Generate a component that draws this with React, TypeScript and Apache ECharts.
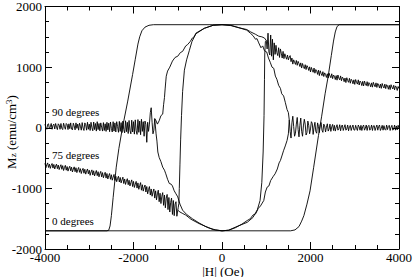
import React, { useEffect, useRef } from "react";
import * as echarts from "echarts";

// Axis ranges / ticks
const xRange = [-4000, 4000];
const yRange = [-2000, 2000];
const xStep = 2000;
const yStep = 1000;

// 0 degrees: square loop
const zeroDegDown = [
  [4000, 1700], [-1550, 1700], [-1650, 1690], [-1740, 1660], [-1810, 1600], [-1860, 1500],
  [-1900, 1380], [-1960, 1130], [-2020, 880], [-2130, 440], [-2250, 0], [-2330, -340],
  [-2390, -650], [-2460, -1150], [-2500, -1450], [-2530, -1620], [-2560, -1690], [-2600, -1700],
  [-4000, -1700],
];
const zeroDegUp = [
  [-4000, -1700], [1550, -1700], [1650, -1685], [1740, -1630], [1800, -1540], [1850, -1450],
  [1920, -1260], [1990, -1040], [2070, -660], [2180, -130], [2250, 180], [2330, 560],
  [2400, 850], [2470, 1190], [2520, 1430], [2560, 1580], [2600, 1670], [2650, 1700], [4000, 1700],
];

// Noisy tails sampled every 20 Oe
const tailStep = 20;
const deg75RightStart = 1000;
const deg75Right = [
  1440, 1300, 1560, 1250, 1200, 1530, 1180, 1460, 1120, 1400,
  1210, 1360, 1240, 1190, 1320, 1160, 1300, 1230, 1150, 1260,
  1140, 1220, 1170, 1130, 1200, 1120, 1165, 1190, 1090, 1150,
  1050, 1120, 1080, 1045, 1110, 1030, 1095, 1060, 1010, 1070,
  985, 1060, 1010, 975, 1040, 960, 1025, 1000, 945, 1005,
  920, 995, 950, 915, 985, 900, 960, 940, 880, 950,
  860, 940, 895, 860, 925, 845, 905, 880, 830, 890,
  820, 900, 855, 825, 890, 810, 870, 850, 795, 860,
  785, 870, 820, 790, 855, 775, 835, 815, 760, 820,
  745, 825, 780, 750, 815, 735, 800, 775, 725, 790,
  715, 795, 750, 720, 790, 705, 770, 750, 695, 765,
  690, 770, 725, 695, 760, 685, 745, 725, 675, 740,
  670, 750, 705, 675, 740, 665, 730, 705, 655, 720,
  650, 730, 685, 655, 720, 645, 710, 690, 635, 700,
  630, 710, 670, 640, 700, 625, 690, 670, 615, 680,
  645,
];
const deg75LeftStart = -4000;
const deg75Left = [
  -585, -660, -610, -580, -655, -600, -670, -620, -590, -665,
  -605, -680, -630, -600, -675, -615, -690, -645, -610, -685,
  -625, -705, -655, -620, -700, -640, -715, -665, -635, -710,
  -650, -730, -680, -645, -725, -660, -740, -690, -655, -735,
  -675, -755, -700, -670, -750, -685, -765, -715, -680, -760,
  -700, -785, -730, -695, -780, -710, -795, -745, -705, -790,
  -725, -810, -755, -720, -810, -740, -825, -775, -735, -830,
  -755, -845, -790, -755, -850, -775, -865, -815, -770, -870,
  -800, -890, -835, -800, -895, -820, -910, -860, -815, -920,
  -845, -935, -880, -840, -940, -865, -960, -905, -860, -970,
  -885, -985, -930, -885, -995, -910, -1015, -955, -905, -1030,
  -940, -1045, -985, -945, -1060, -970, -1090, -1020, -970, -1110,
  -1010, -1130, -1060, -1010, -1160, -1040, -1190, -1090, -1030, -1220,
  -1080, -1250, -1130, -1070, -1280, -1110, -1320, -1160, -1100, -1350,
  -1150, -1390, -1230, -1160, -1430, -1200, -1450, -1260, -1220, -1460,
  -1360,
];
const deg90RightStart = 1520;
const deg90Right = [
  130, -60, -170, 80, 190, 20, -140, -90, 60, 170,
  -30, -150, 40, 160, -60, -140, 30, 140, 60, -120,
  -80, 110, 40, -100, -20, 100, 70, -110, 10, 90,
  -60, -90, 80, 20, -80, 50, 85, -40, -75, 60,
  30, -70, 10, 65, -55, -20, 60, -60, 15, 55,
  -45, 40, -55, 10, 50, -40, -15, 50, -50, 30,
  45, -45, 5, 50, -40, -20, 45, -50, 20, 40,
  -45, 10, 45, -35, -40, 40, -10, -45, 45, 15,
  -40, 40, -45, 20, 45, -40, -5, 45, -45, 25,
  40, -40, -15, 45, -45, 30, 35, -45, 5, 45,
  -40, 20, 45, -45, -10, 40, -40, 35, -25, -40,
  45, -30, 25, 40, -45, 10, 40, -40, -20, 45,
  -40, 30, -35, 40, -10,
];
const deg90LeftStart = -4000;
const deg90Left = [
  60, 0, -25, 55, 65, -20, 15, 70, -25, 40,
  60, -20, 70, 10, -30, 65, 45, -25, 70, -10,
  -30, 75, 20, -25, 70, 55, -30, 65, -15, 80,
  -20, -35, 75, 30, -35, 80, -10, 60, -40, 75,
  25, -40, 85, -5, -45, 80, 50, -40, 90, -25,
  60, -45, 90, 0, -50, 95, -30, 70, -55, 100,
  -30, 70, -50, 80, 10, -55, 85, -45, 65, -60,
  90, -35, 75, -65, 95, -10, -70, 100, -55, 80,
  -70, 100, 20, -75, 105, -60, 85, -80, 110, -30,
  -85, 115, -65, 90, -95, 120, -45, -100, 125, -70,
  100, -105, 130, -50, -110, 135, -75, 110, -115, 140,
  -60, 100, -140, 110, 50, -240, 90, -60, 60, 250,
  330, 90, -100, -40, 150,
];

// Central loop branches (H, M)
const deg75Upper = [
  [1000, 1440], [960, 1480], [900, 1500], [831, 1510], [760, 1540], [650, 1580], [560, 1620],
  [382, 1650], [200, 1685], [0, 1700], [-200, 1690], [-400, 1640], [-590, 1550], [-680, 1420],
  [-740, 1270], [-800, 1120], [-850, 950], [-890, 600], [-915, 200], [-935, -200], [-950, -600],
  [-965, -1000], [-975, -1250], [-990, -1320], [-1000, -1360],
];
const deg75Lower = [
  [-1000, -1360], [-950, -1390], [-900, -1410], [-820, -1440], [-700, -1510], [-520, -1580],
  [-300, -1650], [-150, -1685], [0, -1700], [150, -1690], [270, -1650], [400, -1610], [570, -1560],
  [700, -1480], [800, -1350], [860, -1200], [900, -900], [930, -400], [950, 200], [960, 800],
  [966, 1200], [980, 1420], [1000, 1440],
];
const deg90Upper = [
  [1520, 130], [1500, 250], [1470, 300], [1430, 420], [1393, 525], [1350, 560], [1320, 650],
  [1280, 700], [1240, 800], [1206, 852], [1170, 980], [1130, 1000], [1090, 1080], [1050, 1150],
  [1010, 1250], [960, 1270], [920, 1350], [880, 1320], [830, 1400], [790, 1470], [757, 1460],
  [700, 1520], [640, 1560], [560, 1610], [470, 1630], [382, 1650], [200, 1690], [0, 1700],
  [-200, 1690], [-400, 1640], [-520, 1590], [-590, 1560], [-630, 1500], [-670, 1480], [-720, 1420],
  [-780, 1370], [-820, 1350], [-890, 1260], [-940, 1240], [-1000, 1180], [-1060, 1160],
  [-1120, 1100], [-1180, 1000], [-1230, 935], [-1260, 850], [-1270, 770], [-1285, 640],
  [-1300, 500], [-1320, 380], [-1340, 225], [-1380, 200], [-1420, 115], [-1460, 60],
  [-1500, 130], [-1520, 150],
];
const deg90Lower = [
  [-1520, 150], [-1490, -100], [-1470, -220], [-1450, -400], [-1420, -490], [-1380, -560],
  [-1340, -650], [-1300, -700], [-1270, -760], [-1230, -850], [-1190, -920], [-1150, -930],
  [-1120, -960], [-1080, -1040], [-1040, -1090], [-1000, -1140], [-950, -1260], [-890, -1360],
  [-800, -1430], [-670, -1500], [-520, -1570], [-370, -1630], [-200, -1680], [0, -1700],
  [150, -1690], [300, -1650], [450, -1590], [570, -1530], [640, -1500], [700, -1440],
  [760, -1420], [820, -1330], [870, -1290], [944, -1200], [980, -1060], [1020, -980],
  [1060, -960], [1100, -870], [1160, -800], [1200, -760], [1250, -680], [1290, -580],
  [1320, -540], [1360, -450], [1390, -380], [1430, -300], [1470, -210], [1500, -100], [1520, 130],
];

const curveLabels = ["90 degrees", "75 degrees", "0 degrees"];
const xTitle = "|H| (Oe)";

const FONT = "Liberation Serif";

const tail = (start: number, vals: number[]) => vals.map((m, i) => [start + i * tailStep, m]);

export default function App() {
  const ref = useRef<HTMLDivElement>(null);
  useEffect(() => {
    if (!ref.current) return;
    const chart = echarts.init(ref.current, undefined, { renderer: "svg" });
    const lineSeries = (data: number[][]) => ({
      type: "line",
      data,
      showSymbol: false,
      symbol: "none",
      lineStyle: { color: "#000", width: 0.9 },
      itemStyle: { color: "#000" },
      z: 3,
    });
    const axisCommon = {
      type: "value",
      axisLine: { show: true, onZero: false, lineStyle: { color: "#000", width: 1 } },
      axisTick: { show: true, inside: true, length: 7, lineStyle: { color: "#000" } },
      minorTick: { show: true, splitNumber: 4, length: 4, lineStyle: { color: "#000" } },
      splitLine: { show: false },
      minorSplitLine: { show: false },
    };
    const xAxisBase = { ...axisCommon, min: xRange[0], max: xRange[1], interval: xStep };
    const yAxisBase = { ...axisCommon, min: yRange[0], max: yRange[1], interval: yStep };
    const labelStyle = {
      color: "#000",
      fontFamily: FONT,
      fontSize: 13,
      formatter: (v: number) => String(v),
    };
    chart.setOption({
      animation: false,
      backgroundColor: "#fff",
      textStyle: { fontFamily: FONT },
      grid: { left: 45, right: 14, top: 5, bottom: 28, containLabel: false },
      xAxis: [
        { ...xAxisBase, position: "bottom", axisLabel: { ...labelStyle, margin: 2 } },
        { ...xAxisBase, position: "top", axisLabel: { show: false } },
      ],
      yAxis: [
        { ...yAxisBase, position: "left", axisLabel: { ...labelStyle, margin: 3 } },
        { ...yAxisBase, position: "right", axisLabel: { show: false } },
      ],
      series: [
        lineSeries(zeroDegDown),
        lineSeries(zeroDegUp),
        lineSeries(tail(deg75RightStart, deg75Right)),
        lineSeries(tail(deg75LeftStart, deg75Left)),
        lineSeries(deg75Upper),
        lineSeries(deg75Lower),
        lineSeries(tail(deg90RightStart, deg90Right)),
        lineSeries(tail(deg90LeftStart, deg90Left)),
        lineSeries(deg90Upper),
        lineSeries(deg90Lower),
      ],
      graphic: [
        {
          type: "text",
          x: 11,
          y: 132,
          rotation: Math.PI / 2,
          style: {
            text: "M{sub|z} (emu/cm{sup|3})",
            fontFamily: FONT,
            fontSize: 13,
            fill: "#000",
            align: "center",
            verticalAlign: "middle",
            rich: {
              sub: { fontFamily: FONT, fontSize: 9, verticalAlign: "bottom", lineHeight: 9, fill: "#000" },
              sup: { fontFamily: FONT, fontSize: 9, verticalAlign: "top", lineHeight: 9, fill: "#000" },
            },
          },
        },
        {
          type: "text",
          x: 223,
          y: 271,
          style: {
            text: xTitle,
            fontFamily: FONT,
            fontSize: 13,
            fill: "#000",
            align: "center",
            verticalAlign: "middle",
          },
        },
        ...curveLabels.map((t, i) => ({
          type: "text",
          x: 52,
          y: [112, 155, 221][i],
          z: 10,
          style: {
            text: t,
            fontFamily: FONT,
            fontSize: 11,
            fill: "#000",
            align: "left",
            verticalAlign: "middle",
          },
        })),
      ],
    });
    return () => chart.dispose();
  }, []);
  return (
    <div
      ref={ref}
      style={{ position: "fixed", left: 0, top: 0, width: 415, height: 277, background: "#fff" }}
    />
  );
}
